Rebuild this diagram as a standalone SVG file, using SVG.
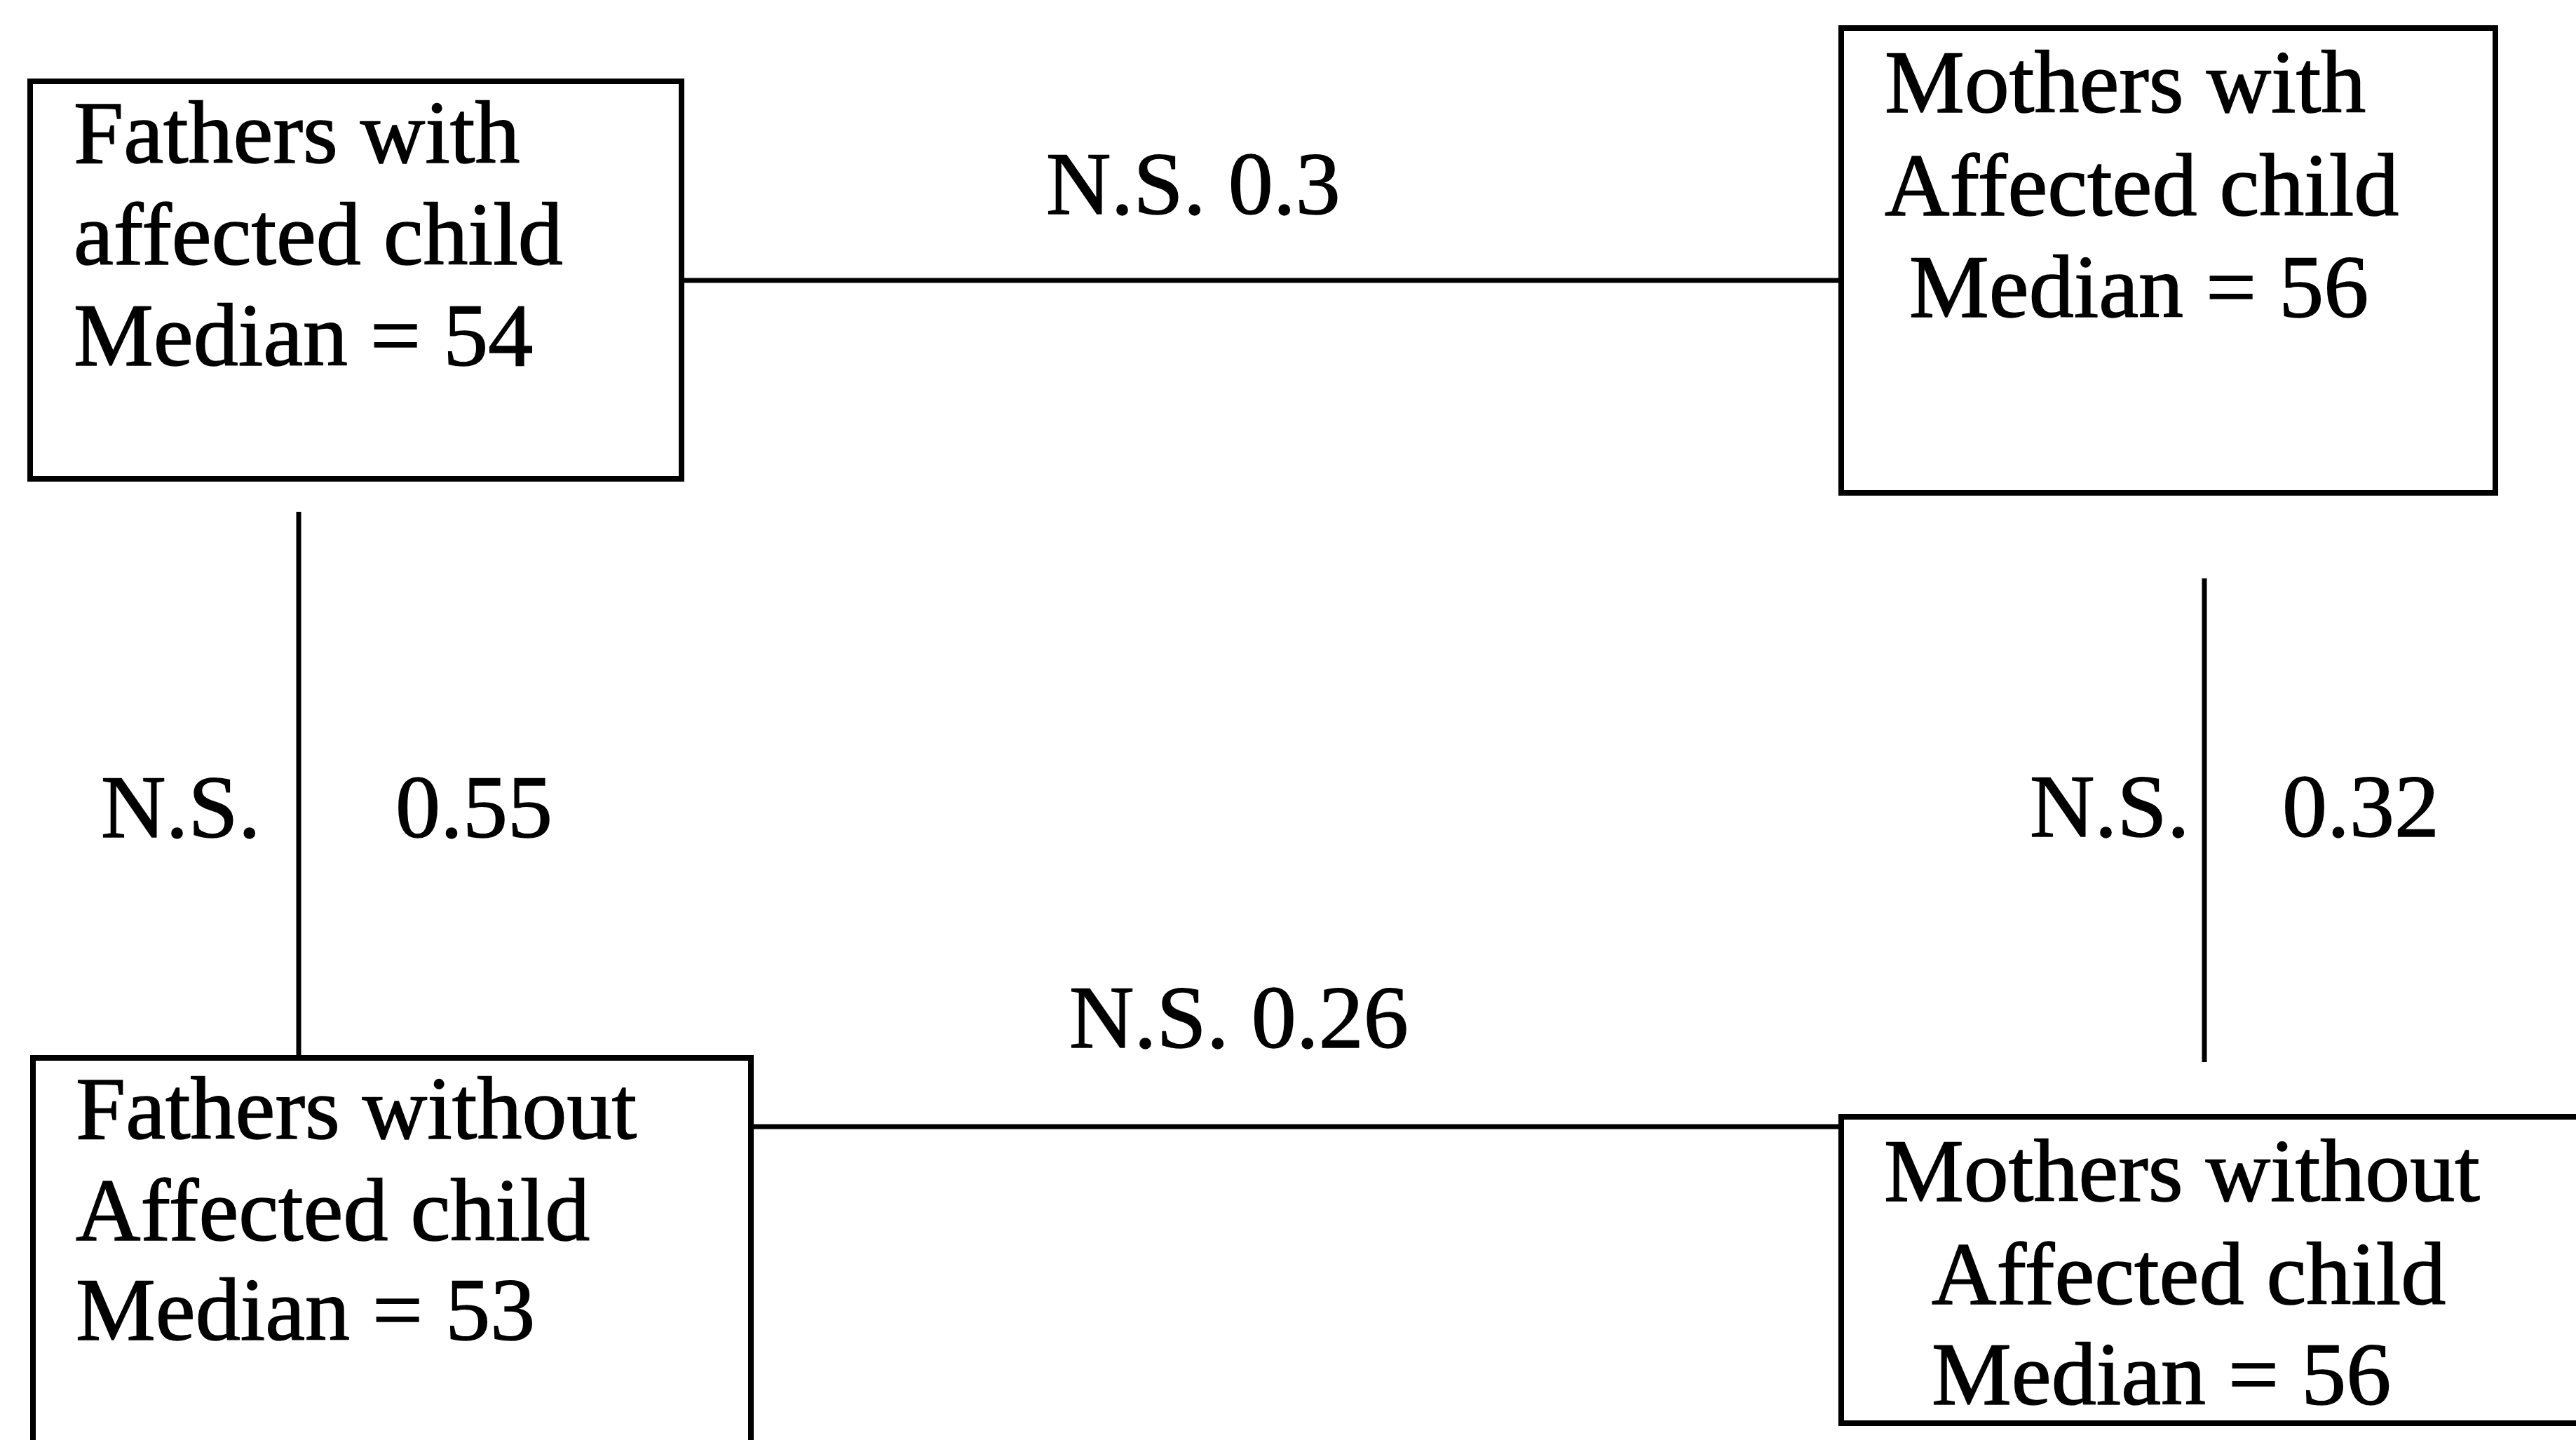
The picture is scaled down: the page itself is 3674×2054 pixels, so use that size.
<svg xmlns="http://www.w3.org/2000/svg" width="3674" height="2054" viewBox="0 0 3674 2054">
  <style>
    .box { fill: #ffffff; stroke: #000000; stroke-width: 8; }
    .link { stroke: #000000; stroke-width: 7; fill: none; }
    text { font-family: "Liberation Serif", "Times New Roman", serif; font-size: 128px; fill: #000000; stroke: #000000; stroke-width: 1.5; }
  </style>
  <rect x="0" y="0" width="3674" height="2054" fill="#ffffff"/>

  <!-- connectors between the four groups -->
  <g id="connectors">
    <line class="link" x1="972" y1="400" x2="2624" y2="400"/>
    <line class="link" x1="426" y1="730" x2="426" y2="1509"/>
    <line class="link" x1="3144" y1="825" x2="3144" y2="1515"/>
    <line class="link" x1="1071" y1="1607" x2="2624" y2="1607"/>
    <text x="1492" y="305">N.S. 0.3</text>
    <text x="1525" y="1494">N.S. 0.26</text>
    <text x="144" y="1194">N.S.</text>
    <text x="564" y="1194">0.55</text>
    <text x="2895" y="1193">N.S.</text>
    <text x="3255" y="1193">0.32</text>
  </g>

  <g id="fathers-with">
    <rect class="box" x="43" y="116" width="929" height="567"/>
    <text x="105" y="232">Fathers with</text>
    <text x="105" y="377">affected child</text>
    <text x="105" y="521">Median = 54</text>
  </g>

  <g id="mothers-with">
    <rect class="box" x="2626" y="40" width="933" height="663"/>
    <text x="2688" y="160">Mothers with</text>
    <text x="2688" y="307">Affected child</text>
    <text x="2723" y="452">Median = 56</text>
  </g>

  <g id="fathers-without">
    <rect class="box" x="47" y="1509" width="1024" height="600"/>
    <text x="108" y="1624">Fathers without</text>
    <text x="108" y="1769">Affected child</text>
    <text x="108" y="1911">Median = 53</text>
  </g>

  <g id="mothers-without">
    <rect class="box" x="2626" y="1593" width="1100" height="437"/>
    <text x="2687" y="1713">Mothers without</text>
    <text x="2755" y="1860">Affected child</text>
    <text x="2755" y="2003">Median = 56</text>
  </g>
</svg>
